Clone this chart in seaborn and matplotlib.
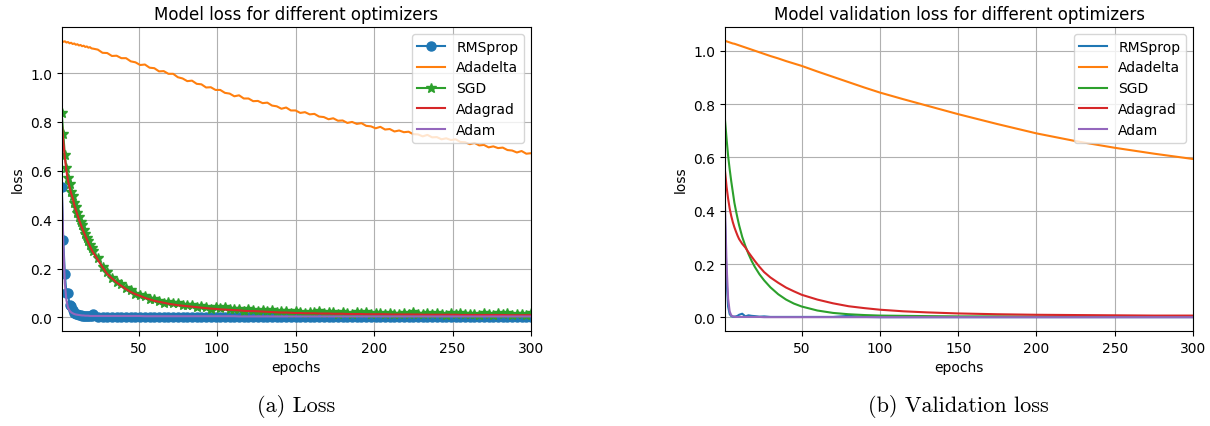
import matplotlib
matplotlib.use("Agg")
import matplotlib.pyplot as plt
import seaborn as sns

# ---------------- data ----------------
optimizers = ["RMSprop", "Adadelta", "SGD", "Adagrad", "Adam"]
colors = ["#1f77b4", "#ff7f0e", "#2ca02c", "#d62728", "#9467bd"]

loss_epochs = list(range(1, 22)) + list(range(24, 301, 3))

loss_rmsprop = [0.535, 0.315, 0.178, 0.100, 0.098, 0.050, 0.045, 0.030, 0.020, 0.015,
                0.012, 0.010, 0.008, 0.006, 0.005, 0.005, 0.004, 0.004, 0.004, 0.006,
                0.012,
                0.003, 0.002, 0.002, 0.003, 0.002, 0.001, 0.002, 0.001, 0.001, 0.002,
                0.001, 0.001, 0.001, 0.002, 0.001, 0.001, 0.001, 0.001, 0.002, 0.001,
                0.001, 0.001, 0.001, 0.001, 0.002, 0.001, 0.001, 0.001, 0.001, 0.001,
                0.001, 0.001, 0.002, 0.001, 0.001, 0.001, 0.001, 0.001, 0.001, 0.001,
                0.001, 0.001, 0.001, 0.002, 0.001, 0.001, 0.001, 0.001, 0.001, 0.001,
                0.001, 0.001, 0.001, 0.001, 0.001, 0.001, 0.001, 0.002, 0.001, 0.001,
                0.001, 0.001, 0.001, 0.001, 0.001, 0.001, 0.001, 0.001, 0.001, 0.001,
                0.001, 0.001, 0.002, 0.001, 0.001, 0.001, 0.001, 0.001, 0.001, 0.001,
                0.001, 0.001, 0.001, 0.001, 0.001, 0.001, 0.001, 0.001, 0.001, 0.001,
                0.001, 0.001, 0.001]

loss_adadelta = [1.132, 1.128, 1.130, 1.125, 1.127, 1.122, 1.124, 1.119, 1.121, 1.116,
                 1.118, 1.113, 1.115, 1.110, 1.112, 1.107, 1.109, 1.104, 1.106, 1.101,
                 1.100,
                 1.096, 1.083, 1.082, 1.070, 1.071, 1.061, 1.061, 1.048, 1.044, 1.033,
                 1.035, 1.022, 1.020, 1.007, 1.008, 0.997, 0.997, 0.983, 0.978, 0.967,
                 0.969, 0.956, 0.954, 0.941, 0.942, 0.931, 0.931, 0.919, 0.916, 0.905,
                 0.909, 0.896, 0.896, 0.885, 0.886, 0.877, 0.879, 0.867, 0.864, 0.854,
                 0.859, 0.847, 0.847, 0.837, 0.840, 0.831, 0.833, 0.822, 0.820, 0.811,
                 0.815, 0.805, 0.806, 0.796, 0.800, 0.792, 0.795, 0.784, 0.782, 0.774,
                 0.780, 0.769, 0.771, 0.761, 0.765, 0.758, 0.760, 0.750, 0.749, 0.741,
                 0.747, 0.737, 0.738, 0.729, 0.733, 0.726, 0.729, 0.718, 0.717, 0.709,
                 0.714, 0.704, 0.706, 0.696, 0.700, 0.693, 0.695, 0.685, 0.683, 0.675,
                 0.681, 0.670, 0.672]

loss_sgd = [0.835, 0.752, 0.665, 0.610, 0.572, 0.548, 0.515, 0.498, 0.470, 0.452,
            0.428, 0.412, 0.390, 0.377, 0.356, 0.343, 0.326, 0.313, 0.297, 0.286,
            0.270,
            0.242, 0.207, 0.186, 0.163, 0.143, 0.136, 0.120, 0.113, 0.097, 0.093,
            0.086, 0.075, 0.076, 0.067, 0.060, 0.063, 0.057, 0.059, 0.050, 0.051,
            0.050, 0.043, 0.048, 0.041, 0.036, 0.042, 0.037, 0.041, 0.033, 0.035,
            0.035, 0.028, 0.034, 0.029, 0.025, 0.031, 0.027, 0.031, 0.023, 0.025,
            0.026, 0.020, 0.026, 0.021, 0.017, 0.024, 0.021, 0.025, 0.018, 0.021,
            0.021, 0.016, 0.023, 0.017, 0.014, 0.021, 0.018, 0.022, 0.015, 0.018,
            0.019, 0.014, 0.020, 0.015, 0.012, 0.019, 0.016, 0.021, 0.014, 0.016,
            0.017, 0.012, 0.019, 0.014, 0.011, 0.018, 0.015, 0.019, 0.012, 0.015,
            0.016, 0.011, 0.018, 0.013, 0.010, 0.017, 0.014, 0.018, 0.011, 0.014,
            0.015, 0.010, 0.017]

loss_adagrad = [0.800, 0.720, 0.655, 0.600, 0.560, 0.532, 0.508, 0.488, 0.462, 0.440,
                0.420, 0.400, 0.383, 0.366, 0.350, 0.335, 0.320, 0.305, 0.291, 0.278,
                0.266,
                0.236, 0.206, 0.178, 0.160, 0.143, 0.129, 0.116, 0.104, 0.095, 0.088,
                0.080, 0.074, 0.068, 0.064, 0.060, 0.056, 0.053, 0.050, 0.048, 0.046,
                0.044, 0.042, 0.040, 0.038, 0.036, 0.035, 0.033, 0.032, 0.031, 0.030,
                0.029, 0.027, 0.026, 0.026, 0.025, 0.024, 0.023, 0.022, 0.021, 0.020,
                0.020, 0.019, 0.018, 0.018, 0.017, 0.017, 0.017, 0.016, 0.016, 0.016,
                0.015, 0.015, 0.015, 0.014, 0.014, 0.014, 0.014, 0.013, 0.013, 0.013,
                0.013, 0.013, 0.012, 0.012, 0.012, 0.012, 0.012, 0.012, 0.012, 0.011,
                0.011, 0.011, 0.011, 0.011, 0.011, 0.011, 0.011, 0.010, 0.010, 0.010,
                0.010, 0.010, 0.010, 0.010, 0.010, 0.010, 0.010, 0.009, 0.009, 0.009,
                0.009, 0.009, 0.009]

loss_adam = [0.560, 0.300, 0.140, 0.070, 0.040, 0.028, 0.021, 0.017, 0.014, 0.012,
             0.011, 0.010, 0.009, 0.008, 0.008, 0.007, 0.007, 0.007, 0.006, 0.006,
             0.006,
             0.006, 0.006, 0.006, 0.006, 0.006, 0.006, 0.006, 0.006, 0.006, 0.006,
             0.005, 0.005, 0.005, 0.005, 0.005, 0.005, 0.005, 0.005, 0.005, 0.005,
             0.005, 0.005, 0.005, 0.005, 0.005, 0.005, 0.005, 0.005, 0.005, 0.005,
             0.004, 0.004, 0.004, 0.004, 0.004, 0.004, 0.004, 0.004, 0.004, 0.004,
             0.004, 0.004, 0.004, 0.004, 0.004, 0.004, 0.004, 0.004, 0.004, 0.004,
             0.004, 0.004, 0.004, 0.004, 0.004, 0.004, 0.004, 0.004, 0.004, 0.004,
             0.004, 0.004, 0.004, 0.004, 0.004, 0.004, 0.004, 0.004, 0.004, 0.004,
             0.004, 0.004, 0.004, 0.004, 0.004, 0.004, 0.004, 0.004, 0.004, 0.004,
             0.004, 0.004, 0.004, 0.004, 0.004, 0.004, 0.004, 0.004, 0.004, 0.004,
             0.004, 0.004, 0.004]

val_epochs = [1, 2, 3, 4, 5, 6, 7, 8, 9, 10, 12, 14, 16, 18, 20, 23, 26, 30, 35, 40,
              45, 50, 60, 70, 80, 90, 100, 115, 130, 150, 175, 200, 225, 250, 275, 300]

val_rmsprop = [0.360, 0.140, 0.040, 0.012, 0.005, 0.003, 0.003, 0.004, 0.006, 0.010,
               0.014, 0.004, 0.008, 0.006, 0.005, 0.003, 0.004, 0.002, 0.002, 0.002,
               0.002, 0.002, 0.002, 0.002, 0.006, 0.002, 0.001, 0.001, 0.001, 0.001,
               0.001, 0.001, 0.001, 0.001, 0.001, 0.001]

val_adadelta = [1.037, 1.035, 1.033, 1.031, 1.029, 1.027, 1.026, 1.024, 1.022, 1.020,
                1.016, 1.012, 1.008, 1.004, 1.000, 0.994, 0.988, 0.980, 0.971, 0.961,
                0.952, 0.943, 0.922, 0.902, 0.882, 0.862, 0.843, 0.818, 0.794, 0.762,
                0.725, 0.690, 0.661, 0.636, 0.614, 0.594]

val_sgd = [0.740, 0.670, 0.605, 0.555, 0.510, 0.470, 0.430, 0.400, 0.372, 0.346,
           0.302, 0.268, 0.238, 0.212, 0.190, 0.162, 0.139, 0.113, 0.087, 0.067,
           0.052, 0.041, 0.026, 0.017, 0.012, 0.009, 0.007, 0.006, 0.005, 0.004,
           0.004, 0.003, 0.003, 0.003, 0.003, 0.003]

val_adagrad = [0.550, 0.490, 0.445, 0.408, 0.380, 0.357, 0.338, 0.322, 0.307, 0.294,
               0.276, 0.262, 0.244, 0.228, 0.212, 0.190, 0.170, 0.150, 0.130, 0.112,
               0.098, 0.085, 0.067, 0.053, 0.042, 0.035, 0.029, 0.023, 0.019, 0.015,
               0.012, 0.010, 0.009, 0.008, 0.007, 0.007]

val_adam = [0.420, 0.200, 0.070, 0.022, 0.008, 0.004, 0.003, 0.002, 0.002, 0.002,
            0.002, 0.002, 0.002, 0.002, 0.002, 0.002, 0.001, 0.001, 0.001, 0.001,
            0.001, 0.001, 0.001, 0.001, 0.001, 0.001, 0.001, 0.001, 0.001, 0.001,
            0.001, 0.001, 0.001, 0.001, 0.001, 0.001]

titles = ["Model loss for different optimizers",
          "Model validation loss for different optimizers"]
captions = ["(a) Loss", "(b) Validation loss"]

# ---------------- figure ----------------
W, H = 1210, 427
fig = plt.figure(figsize=(W / 100, H / 100), dpi=100)
ax1 = fig.add_axes([61.7 / W, 1 - 332 / H, (531 - 61.7) / W, (332 - 28) / H])
ax2 = fig.add_axes([725 / W, 1 - 332 / H, (1193 - 725) / W, (332 - 28) / H])

loss_series = [loss_rmsprop, loss_adadelta, loss_sgd, loss_adagrad, loss_adam]
loss_markers = ["o", None, "*", None, None]
for name, vals, col, mk in zip(optimizers, loss_series, colors, loss_markers):
    kw = dict(color=col, linewidth=1.5, label=name, ax=ax1, sort=False,
              errorbar=None, legend=False)
    if mk is not None:
        kw.update(marker=mk, markersize=6.5 if mk == "o" else 7,
                  markeredgecolor=col, markeredgewidth=1.0)
    sns.lineplot(x=loss_epochs, y=vals, **kw)

val_series = [val_rmsprop, val_adadelta, val_sgd, val_adagrad, val_adam]
for name, vals, col in zip(optimizers, val_series, colors):
    sns.lineplot(x=val_epochs, y=vals, color=col, linewidth=1.5, label=name,
                 ax=ax2, sort=False, errorbar=None, legend=False)

for ax, title in zip([ax1, ax2], titles):
    ax.set_xlim(1, 300)
    ax.set_title(title, fontsize=12)
    ax.set_xlabel("epochs", fontsize=10)
    ax.set_ylabel("loss", fontsize=10)
    ax.grid(True, color="#b0b0b0", linewidth=0.8)
    ax.tick_params(labelsize=10)
    for s in ax.spines.values():
        s.set_color("black")
        s.set_linewidth(0.8)
    ax.legend(loc="upper right", fontsize=10)

fig.text(296 / W, 1 - 407 / H, captions[0], ha="center", va="center",
         fontfamily="cmr10", fontsize=16)
fig.text(958 / W, 1 - 407 / H, captions[1], ha="center", va="center",
         fontfamily="cmr10", fontsize=16)

fig.savefig("out.png", dpi=100)
